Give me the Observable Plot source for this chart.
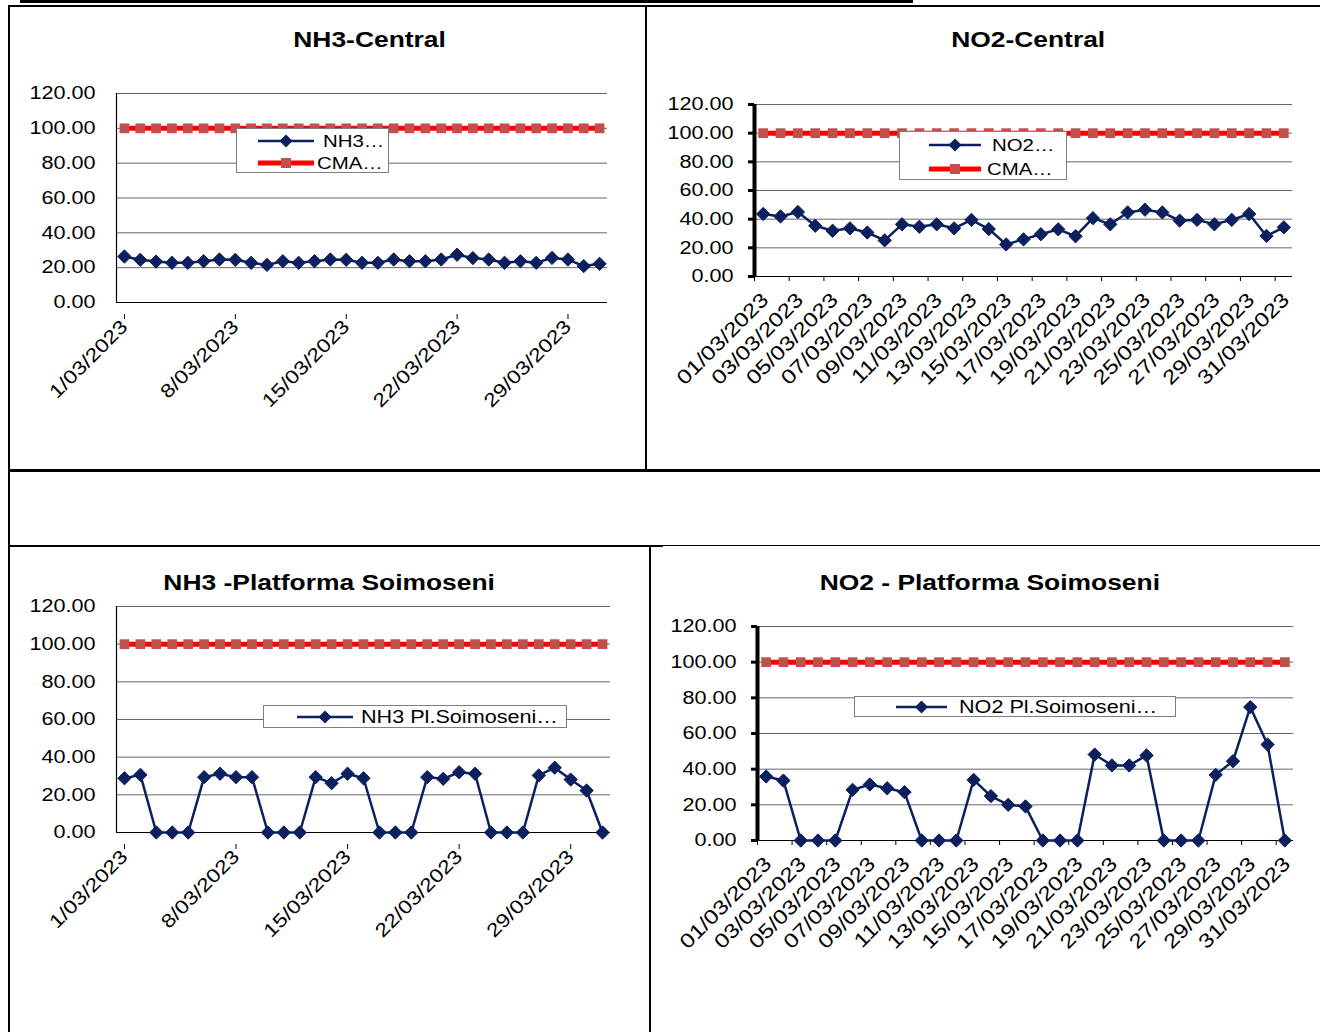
<!DOCTYPE html>
<html><head><meta charset="utf-8">
<script src="https://cdn.jsdelivr.net/npm/d3@7"></script>
<script src="https://cdn.jsdelivr.net/npm/@observablehq/plot@0.6"></script>
<style>
html,body{margin:0;padding:0;background:#fff;}
body{position:relative;width:1320px;height:1032px;overflow:hidden;font-family:"Liberation Sans",Arial,sans-serif;color:#000;}
.ln{position:absolute;background:#000;}
.title{position:absolute;width:600px;text-align:center;font-weight:bold;font-size:22px;line-height:26px;white-space:nowrap;}
.title span{display:inline-block;transform:scaleX(1.2);}
.legend{position:absolute;background:#fff;border:1px solid #7f7f7f;box-sizing:border-box;}
.legend svg{position:absolute;left:0;top:0;overflow:visible;}
</style></head><body>
<div class="ln" style="left:20px;top:0;width:893px;height:3px"></div>
<div class="ln" style="left:8px;top:5px;width:1312px;height:2px"></div>
<div class="ln" style="left:8px;top:5px;width:2px;height:1027px"></div>
<div class="ln" style="left:645px;top:5px;width:2px;height:465px"></div>
<div class="ln" style="left:8px;top:469px;width:1312px;height:3px"></div>
<div class="ln" style="left:8px;top:545px;width:655px;height:2px"></div>
<div class="ln" style="left:663px;top:545px;width:657px;height:1px"></div>
<div class="ln" style="left:649px;top:546px;width:2px;height:486px"></div>
<script>
// ---------- data ----------
const days = d3.range(1, 32);
const yTicks = [0, 20, 40, 60, 80, 100, 120];
const cmaLimit = 100;
const weekTickDays = [1, 8, 15, 22, 29];
const weekTickLabels = ["1/03/2023", "8/03/2023", "15/03/2023", "22/03/2023", "29/03/2023"];
const bidayTickDays = [1, 3, 5, 7, 9, 11, 13, 15, 17, 19, 21, 23, 25, 27, 29, 31];
const bidayTickLabels = ["01/03/2023", "03/03/2023", "05/03/2023", "07/03/2023", "09/03/2023", "11/03/2023",
  "13/03/2023", "15/03/2023", "17/03/2023", "19/03/2023", "21/03/2023", "23/03/2023", "25/03/2023",
  "27/03/2023", "29/03/2023", "31/03/2023"];
const nh3Central = [26.4, 24.5, 23.5, 22.8, 22.8, 23.7, 24.7, 24.5, 22.8, 21.6, 23.7, 22.8, 23.7, 24.7, 24.5, 22.8,
  22.8, 24.7, 23.7, 23.7, 24.7, 27.4, 25.5, 24.7, 22.8, 23.7, 22.8, 25.6, 24.7, 20.9, 22.2];
const no2Central = [43.6, 41.9, 45.0, 35.4, 31.9, 33.6, 30.7, 25.2, 36.4, 34.7, 36.4, 33.6, 39.5, 33.1, 22.4, 25.9,
  29.5, 32.9, 28.1, 40.7, 36.4, 44.7, 46.6, 44.7, 39.0, 39.5, 36.4, 39.5, 43.6, 28.3, 34.3];
const nh3Soimoseni = [28.8, 30.6, 0, 0, 0, 29.4, 31.2, 29.4, 29.4, 0, 0, 0, 29.4, 26.2, 31.2, 28.8, 0, 0, 0, 29.4,
  28.5, 32.0, 31.2, 0, 0, 0, 30.3, 34.4, 28.1, 22.3, 0];
const no2Soimoseni = [35.9, 33.6, 0, 0, 0, 28.4, 31.4, 29.3, 27.1, 0, 0, 0, 34.0, 24.9, 20.0, 19.1, 0, 0, 0, 48.2,
  42.1, 42.1, 47.7, 0, 0, 0, 36.8, 44.5, 74.8, 53.8, 0];

const NAVY = "#0c1f5e", RED = "#ff0000", SQ = "#c0504d";
const FONT = "'Liberation Sans', Arial, sans-serif";
const K = 1.2;

function stretch(root, k) {
  for (const t of root.querySelectorAll("text")) {
    const L = t.getComputedTextLength();
    if (L > 0) { t.setAttribute("textLength", L * k); t.setAttribute("lengthAdjust", "spacingAndGlyphs"); }
  }
}

function addTitle(text, cx, cy) {
  const d = document.createElement("div");
  d.className = "title";
  d.style.left = (cx - 300) + "px";
  d.style.top = (cy - 13) + "px";
  const s = document.createElement("span");
  s.textContent = text;
  d.appendChild(s);
  document.body.appendChild(d);
}

function makeChart(cfg) {
  const data = days.map((d, i) => ({day: d, value: cfg.values[i]}));
  const cma = days.map(d => ({day: d, value: cmaLimit}));
  const weekLabel = new Map(weekTickDays.map((d, i) => [d, weekTickLabels[i]]));
  const bidayLabel = new Map(bidayTickDays.map((d, i) => [d, bidayTickLabels[i]]));
  const marks = [
    Plot.gridY(yTicks, {stroke: "#000", strokeOpacity: 0.6}),
    Plot.ruleY([0], {stroke: "#000", strokeWidth: 1.2}),
    Plot.axisY({ticks: yTicks, tickFormat: d => d.toFixed(2), tickSize: cfg.thick ? 6 : 0, label: null,
      tickPadding: cfg.thick ? 15 : 21, strokeWidth: 3, fontSize: 18})
  ];
  if (cfg.axis === "week") {
    marks.push(Plot.axisX({ticks: weekTickDays.map(d => d - 0.5), tickFormat: d => weekLabel.get(d + 0.5),
      tickSize: 5, tickRotate: -45, fontSize: 19, tickPadding: 4, label: null, dx: 8, dy: 12}));
  } else {
    marks.push(Plot.axisX({ticks: bidayTickDays.map(d => d - 0.5), tickFormat: () => "", tickSize: 5, label: null}));
    marks.push(Plot.axisX({ticks: bidayTickDays, tickFormat: d => bidayLabel.get(d), label: null,
      tickSize: 0, tickRotate: -45, fontSize: 20, tickPadding: 8, dx: 2, dy: 12}));
  }
  marks.push(
    Plot.ruleX([0.5], {stroke: "#000", strokeWidth: cfg.thick ? 4 : 1.2}),
    Plot.line(cma, {x: "day", y: "value", stroke: RED, strokeWidth: 5}),
    Plot.dot(cma, {x: "day", y: "value", symbol: "square", r: 5.5, fill: SQ}),
    Plot.line(data, {x: "day", y: "value", stroke: NAVY, strokeWidth: 2.5}),
    Plot.dot(data, {x: "day", y: "value", symbol: "diamond2", r: 6, fill: NAVY, stroke: NAVY, strokeWidth: 1})
  );
  const svg = Plot.plot({
    width: cfg.width, height: cfg.height,
    marginTop: cfg.mt, marginRight: cfg.mr, marginBottom: cfg.mb, marginLeft: cfg.ml,
    x: {domain: [0.5, 31.5], axis: null, label: null},
    y: {domain: [0, 120], axis: null, label: null},
    style: {fontFamily: FONT, fontSize: "18px", color: "#000", background: "transparent", overflow: "visible"},
    marks
  });
  svg.style.position = "absolute";
  svg.style.left = cfg.left + "px";
  svg.style.top = cfg.top + "px";
  document.body.appendChild(svg);
  stretch(svg, K);
}

function makeLegend(box, entries) {
  const d = document.createElement("div");
  d.className = "legend";
  Object.assign(d.style, {left: box.left + "px", top: box.top + "px", width: box.w + "px", height: box.h + "px"});
  const ns = "http://www.w3.org/2000/svg";
  const svg = document.createElementNS(ns, "svg");
  svg.setAttribute("width", box.w); svg.setAttribute("height", box.h);
  for (const e of entries) {
    const line = document.createElementNS(ns, "line");
    line.setAttribute("x1", e.x1); line.setAttribute("x2", e.x2);
    line.setAttribute("y1", e.y); line.setAttribute("y2", e.y);
    line.setAttribute("stroke", e.kind === "cma" ? RED : NAVY);
    line.setAttribute("stroke-width", e.kind === "cma" ? 5 : 2.5);
    svg.appendChild(line);
    const cx = (e.x1 + e.x2) / 2;
    const m = document.createElementNS(ns, "path");
    if (e.kind === "cma") {
      m.setAttribute("d", `M${cx - 5},${e.y - 5}h10v10h-10z`);
      m.setAttribute("fill", SQ);
    } else {
      m.setAttribute("d", `M${cx},${e.y - 6.5}L${cx + 6.5},${e.y}L${cx},${e.y + 6.5}L${cx - 6.5},${e.y}z`);
      m.setAttribute("fill", NAVY);
    }
    svg.appendChild(m);
    const t = document.createElementNS(ns, "text");
    t.setAttribute("x", e.tx); t.setAttribute("y", e.y);
    t.setAttribute("dy", "0.36em");
    t.setAttribute("font-size", e.fs);
    t.setAttribute("font-family", FONT);
    t.textContent = e.label;
    svg.appendChild(t);
  }
  d.appendChild(svg);
  document.body.appendChild(d);
  stretch(svg, K);
}

// ---------- charts ----------
addTitle("NH3-Central", 370, 40);
addTitle("NO2-Central", 1028, 40);
addTitle("NH3 -Platforma Soimoseni", 329, 583);
addTitle("NO2 - Platforma Soimoseni", 990, 583);

makeChart({values: nh3Central, axis: "week", thick: false, left: 0, top: 60, width: 640, height: 400,
  mt: 33, mr: 33, mb: 158, ml: 116});
makeChart({values: no2Central, axis: "biday", thick: true, left: 650, top: 60, width: 665, height: 400,
  mt: 44, mr: 23, mb: 184, ml: 104});
makeChart({values: nh3Soimoseni, axis: "week", thick: false, left: 12, top: 590, width: 630, height: 440,
  mt: 16, mr: 32, mb: 198, ml: 104});
makeChart({values: no2Soimoseni, axis: "biday", thick: true, left: 655, top: 600, width: 660, height: 430,
  mt: 26, mr: 22, mb: 190, ml: 102});

makeLegend({left: 236, top: 128, w: 153, h: 45}, [
  {kind: "series", label: "NH3…", y: 12, x1: 21, x2: 77, tx: 86, fs: 17},
  {kind: "cma", label: "CMA…", y: 34, x1: 21, x2: 77, tx: 80, fs: 17}
]);
makeLegend({left: 899, top: 131, w: 168, h: 49}, [
  {kind: "series", label: "NO2…", y: 13, x1: 29, x2: 81, tx: 92, fs: 17},
  {kind: "cma", label: "CMA…", y: 37, x1: 29, x2: 81, tx: 87, fs: 17}
]);
makeLegend({left: 263, top: 705, w: 304, h: 23}, [
  {kind: "series", label: "NH3 Pl.Soimoseni…", y: 11, x1: 33, x2: 89, tx: 97, fs: 18}
]);
makeLegend({left: 854, top: 696, w: 322, h: 21}, [
  {kind: "series", label: "NO2 Pl.Soimoseni…", y: 10, x1: 41, x2: 92, tx: 104, fs: 18}
]);
</script>
</body></html>
